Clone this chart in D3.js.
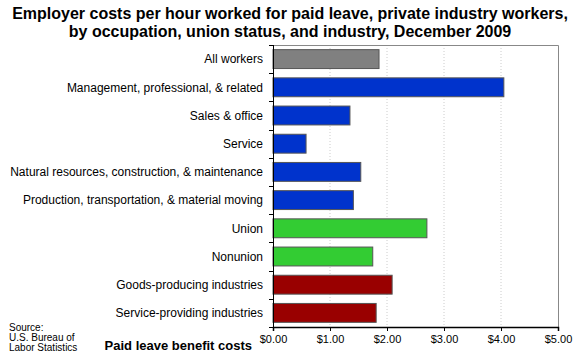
<!DOCTYPE html>
<html>
<head>
<meta charset="utf-8">
<script src="https://cdn.jsdelivr.net/npm/d3@7"></script>
<style>
body { margin: 0; background: #fff; }
svg { font-family: "Liberation Sans", Arial, sans-serif; }
</style>
</head>
<body>
<svg id="chart" width="580" height="360"></svg>
<script>
const categories = [
    "All workers",
    "Management, professional, & related",
    "Sales & office",
    "Service",
    "Natural resources, construction, & maintenance",
    "Production, transportation, & material moving",
    "Union",
    "Nonunion",
    "Goods-producing industries",
    "Service-providing industries"
];
const values = [1.86, 4.05, 1.35, 0.58, 1.54, 1.41, 2.70, 1.75, 2.09, 1.81];
const groups = ["all", "occ", "occ", "occ", "occ", "occ", "union", "union", "ind", "ind"];
const xTicks = [0, 1, 2, 3, 4, 5];

const colors = { all: "#808080", occ: "#0033CC", union: "#33CC33", ind: "#990000" };

const width = 580, height = 360;
const marginTop = 45, marginBottom = 33, marginLeft = 273, marginRight = 22;

const svg = d3.select("#chart");

const x = d3.scaleLinear()
    .domain([0, 5])
    .range([marginLeft, width - marginRight]);

const y = d3.scaleBand()
    .domain(categories)
    .range([marginTop, height - marginBottom])
    .paddingInner(0.33)
    .paddingOuter(0.165);

// title
svg.append("text")
    .attr("x", 290).attr("y", 19)
    .attr("text-anchor", "middle")
    .attr("font-size", 16).attr("font-weight", "bold")
    .text("Employer costs per hour worked for paid leave, private industry workers,");
svg.append("text")
    .attr("x", 290).attr("y", 37)
    .attr("text-anchor", "middle")
    .attr("font-size", 16).attr("font-weight", "bold")
    .text("by occupation, union status, and industry, December 2009");

// grid lines
svg.append("g")
    .selectAll("line")
    .data(xTicks.slice(1, -1))
    .join("line")
    .attr("x1", d => x(d)).attr("x2", d => x(d))
    .attr("y1", marginTop).attr("y2", height - marginBottom)
    .attr("stroke", "#cccccc")
    .attr("stroke-dasharray", "1,2");

// top and right border
svg.append("path")
    .attr("d", `M${x(0)},${marginTop + 0.5}H${x(5) + 0.5}V${height - marginBottom}`)
    .attr("fill", "none")
    .attr("stroke", "#888");

// bars
svg.append("g")
    .selectAll("rect")
    .data(categories)
    .join("rect")
    .attr("x", x(0))
    .attr("y", d => y(d))
    .attr("width", (d, i) => x(values[i]) - x(0))
    .attr("height", y.bandwidth())
    .attr("fill", (d, i) => colors[groups[i]])
    .attr("stroke", "#555")
    .attr("stroke-width", 1);

// y axis: ticks at band boundaries
const step = y.step();
const bounds = d3.range(categories.length + 1).map(i => marginTop + i * step);
const gy = svg.append("g");
gy.append("line")
    .attr("x1", x(0) + 0.5).attr("x2", x(0) + 0.5)
    .attr("y1", marginTop).attr("y2", height - marginBottom)
    .attr("stroke", "#000");
gy.selectAll("line.tick")
    .data(bounds)
    .join("line")
    .attr("class", "tick")
    .attr("x1", x(0) - 4).attr("x2", x(0) + 1)
    .attr("y1", d => Math.round(d) + 0.5).attr("y2", d => Math.round(d) + 0.5)
    .attr("stroke", "#000");
gy.selectAll("text")
    .data(categories)
    .join("text")
    .attr("x", x(0) - 10)
    .attr("y", d => y(d) + y.bandwidth() / 2)
    .attr("dy", "0.35em")
    .attr("text-anchor", "end")
    .attr("font-size", 12)
    .text(d => d);

// x axis
const gx = svg.append("g")
    .attr("transform", `translate(0,${height - marginBottom})`)
    .call(d3.axisBottom(x).tickValues(xTicks).tickSize(4).tickFormat(d3.format("$.2f")));
gx.select(".domain").attr("stroke", "#000").attr("stroke-width", 1.5);
gx.selectAll(".tick line").attr("stroke", "#000");
gx.selectAll(".tick text")
    .attr("font-size", 11)
    .attr("font-family", "Liberation Sans, Arial, sans-serif")
    .attr("fill", "#000")
    .attr("y", 8);

// axis title
svg.append("text")
    .attr("x", 252).attr("y", 350)
    .attr("text-anchor", "end")
    .attr("font-size", 13).attr("font-weight", "bold")
    .text("Paid leave benefit costs");

// source note
const src = svg.append("text")
    .attr("x", 9).attr("y", 331)
    .attr("font-size", 10);
["Source:", "U.S. Bureau of", "Labor Statistics"].forEach((t, i) => {
    src.append("tspan").attr("x", 9).attr("dy", i ? 10 : 0).text(t);
});
</script>
</body>
</html>
